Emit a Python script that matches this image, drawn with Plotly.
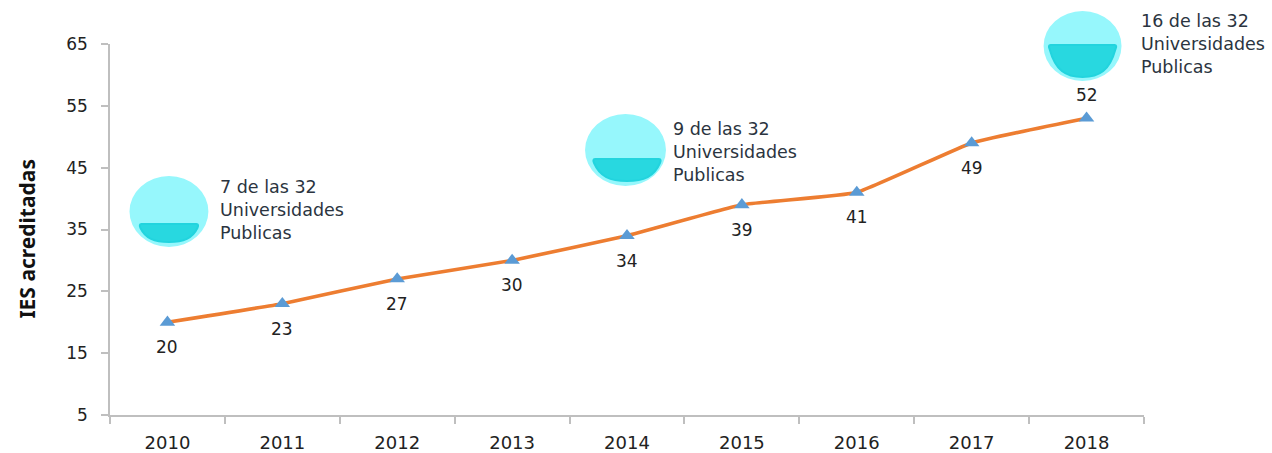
import plotly.graph_objects as go

years = ["2010", "2011", "2012", "2013", "2014", "2015", "2016", "2017", "2018"]
values = [20, 23, 27, 30, 34, 39, 41, 49, 53]
point_labels = ["20", "23", "27", "30", "34", "39", "41", "49", "52"]
y_ticks = [5, 15, 25, 35, 45, 55, 65]
y_title = "IES acreditadas"
notes = ["7 de las 32<br>Universidades<br>Publicas",
         "9 de las 32<br>Universidades<br>Publicas",
         "16 de las 32<br>Universidades<br>Publicas"]

W, H = 1272, 453
L, R, T, B = 109.5, 1144.5, 44, 415
NUM_FONT = "DejaVu Sans"


def px(x):
    return (x - L) / (R - L)


def py(y):
    return (B - y) / (B - T)


fig = go.Figure()
fig.add_trace(go.Scatter(
    x=years, y=values, mode="lines+markers",
    line=dict(color="#ED7D31", width=3.6, shape="spline", smoothing=0.3),
    marker=dict(symbol="triangle-up", size=13.5, color="#5B9BD5", line=dict(width=0)),
    hoverinfo="skip", showlegend=False, cliponaxis=False,
))

annotations = []
for i, (v, lab) in enumerate(zip(values, point_labels)):
    annotations.append(dict(
        x=i, y=v, xref="x", yref="y", text=lab, showarrow=False,
        yshift=23 if i == len(years) - 1 else -25,
        xanchor="center", yanchor="middle",
        font=dict(family=NUM_FONT, size=17, color="#222222"),
    ))

# (circle x0, x1, y0, y1, bowl x0, x1, y top, y bottom, text x, middle-line y)
badges = [
    (129, 208, 176, 247, 139, 198, 223, 242, 219, 210),
    (585, 666, 114, 186, 593, 661, 158, 181, 672, 151.5),
    (1044, 1122, 11, 81, 1049, 1117, 44, 77, 1140, 44.5),
]
shapes = []
for (c0, c1, r0, r1, b0, b1, bt, bb, tx, ty), note in zip(badges, notes):
    shapes.append(dict(type="circle", xref="paper", yref="paper",
                       x0=px(c0), x1=px(c1), y0=py(r1), y1=py(r0),
                       fillcolor="#96F7FC", line=dict(width=0), layer="above"))
    bm = (b0 + b1) / 2
    w = (b1 - b0) / 2
    h = bb - bt
    path = (f"M {px(b0 + 2)} {py(bt + 1)} L {px(b1 - 2)} {py(bt + 1)} "
            f"C {px(b1)} {py(bt + 1)} {px(b1)} {py(bt + 3)} {px(b1 - 1)} {py(bt + 5)} "
            f"C {px(b1 - 0.2 * w)} {py(bt + 0.8 * h)} {px(bm + 0.5 * w)} {py(bb)} {px(bm)} {py(bb)} "
            f"C {px(bm - 0.5 * w)} {py(bb)} {px(b0 + 0.2 * w)} {py(bt + 0.8 * h)} {px(b0 + 1)} {py(bt + 5)} "
            f"C {px(b0)} {py(bt + 3)} {px(b0)} {py(bt + 1)} {px(b0 + 2)} {py(bt + 1)} Z")
    shapes.append(dict(type="path", xref="paper", yref="paper", path=path,
                       fillcolor="#28D8E0", line=dict(color="#22D4DE", width=2), layer="above"))
    annotations.append(dict(
        x=px(tx), y=py(ty), xref="paper", yref="paper", text=note, showarrow=False,
        xanchor="left", yanchor="middle", align="left", xshift=-1,
        font=dict(family=NUM_FONT, size=17.5, color="#2B3440"),
    ))

annotations.append(dict(
    x=px(26), y=py(239), text=y_title, showarrow=False, textangle=-90,
    xref="paper", yref="paper", xanchor="center", yanchor="middle",
    font=dict(family="Noto Sans", size=21, color="#111111", weight="bold"),
))

fig.update_layout(
    width=W, height=H,
    margin=dict(l=L, r=W - R, t=T, b=H - B, pad=0, autoexpand=False),
    paper_bgcolor="white", plot_bgcolor="white",
    shapes=shapes, annotations=annotations,
    xaxis=dict(type="category", categoryorder="array", categoryarray=years, range=[-0.5, 8.5],
               tickangle=0, automargin=False, ticklabelstandoff=11,
               tickson="boundaries", ticks="outside", ticklen=7, tickwidth=1.5, tickcolor="#BFBFBF",
               showgrid=False, zeroline=False, showline=True, linecolor="#BFBFBF", linewidth=1.5,
               tickfont=dict(family=NUM_FONT, size=18, color="#222222")),
    yaxis=dict(range=[5, 65], tickvals=y_ticks, ticks="outside", ticklen=7, tickwidth=1.5,
               automargin=False, ticklabelstandoff=10,
               tickcolor="#BFBFBF", showgrid=False, zeroline=False, showline=True,
               linecolor="#BFBFBF", linewidth=1.5,
               tickfont=dict(family=NUM_FONT, size=17, color="#222222")),
)
fig.write_html("out.html", config=dict(displayModeBar=False),
               post_script="document.body.style.margin='0';")
